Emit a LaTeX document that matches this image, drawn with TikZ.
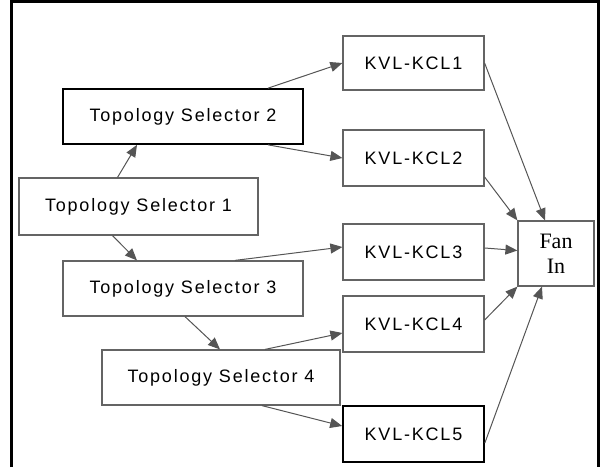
\documentclass[tikz,border=0pt]{standalone}
\usepackage{fontspec}
\usepackage{tikz}
\usetikzlibrary{arrows.meta, positioning}
\newfontfamily\boxfont{Liberation Sans}[LetterSpace=10]
\newfontfamily\fanfont{Liberation Serif}
\definecolor{edgegray}{RGB}{85, 85, 85}
\definecolor{boxgray}{RGB}{100, 100, 100}
\tikzset{
    block/.style={rectangle, draw=boxgray, line width=1.2pt, fill=white, inner sep=0pt, minimum height=55pt, font=\boxfont\fontsize{18}{21}\selectfont},
    selector/.style={block, minimum width=239pt},
    kcl/.style={block, minimum width=141pt},
    darkblock/.style={draw=black, line width=1.7pt},
    line/.style={draw, -{Triangle[length=12pt, width=10pt]}, edgegray, line width=1pt}
}
\begin{document}
\begin{tikzpicture}[x=1pt, y=-1pt]
        \useasboundingbox (0,0) rectangle (603,467);
        % Outer frame, open at the bottom
        \draw[line width=3pt] (11.5,467) -- (11.5,1.5) -- (598,1.5) -- (598,467);

        % Topology selectors
        \node[selector, darkblock, minimum width=240pt] (ts2) at (183,116.5) {Topology Selector 2};
        \node[selector, minimum height=57pt] (ts1) at (138.5,206.5) {Topology Selector 1};
        \node[selector, minimum width=240pt] (ts3) at (183,288.5) {Topology Selector 3};
        \node[selector, minimum width=238pt] (ts4) at (221,377.5) {Topology Selector 4};

        % KVL-KCL blocks
        \node[kcl, minimum height=54pt] (kcl1) at (413.5,63) {KVL-KCL1};
        \node[kcl, minimum height=56pt] (kcl2) at (413.5,158) {KVL-KCL2};
        \node[kcl, minimum height=56pt] (kcl3) at (413.5,252) {KVL-KCL3};
        \node[kcl, minimum height=56pt] (kcl4) at (413.5,324) {KVL-KCL4};
        \node[kcl, darkblock, minimum height=56pt] (kcl5) at (413.5,434) {KVL-KCL5};

        % Fan in
        \node[rectangle, draw=boxgray, line width=1.2pt, minimum width=76pt, minimum height=65pt, inner sep=0pt,
              align=center, font=\fanfont\fontsize{22}{25}\selectfont] (fan) at (556,253.5) {Fan\\In};

        % Selector tree
        \draw[line] ([xshift=-21]ts1.north) -- ([xshift=-46]ts2.south);
        \draw[line] ([xshift=-26]ts1.south) -- ([xshift=-46]ts3.north);
        \draw[line] ([xshift=2]ts3.south) -- ([xshift=-1]ts4.north);

        % Selectors to KVL-KCL
        \draw[line] ([xshift=85]ts2.north) -- (kcl1.west);
        \draw[line] ([xshift=85]ts2.south) -- (kcl2.west);
        \draw[line] ([xshift=52]ts3.north) -- ([yshift=5]kcl3.west);
        \draw[line] ([xshift=44]ts4.north) -- ([yshift=-9]kcl4.west);
        \draw[line] ([xshift=41]ts4.south) -- ([yshift=8]kcl5.west);

        % KVL-KCL to fan in
        \draw[line] (kcl1.east) -- ([xshift=-11]fan.north);
        \draw[line] ([yshift=-19]kcl2.east) -- (fan.north west);
        \draw[line] ([yshift=4]kcl3.east) -- ([yshift=3]fan.west);
        \draw[line] ([yshift=4]kcl4.east) -- (fan.south west);
        \draw[line] ([yshift=-9]kcl5.east) -- ([xshift=-14]fan.south);
    \end{tikzpicture}
\end{document}
